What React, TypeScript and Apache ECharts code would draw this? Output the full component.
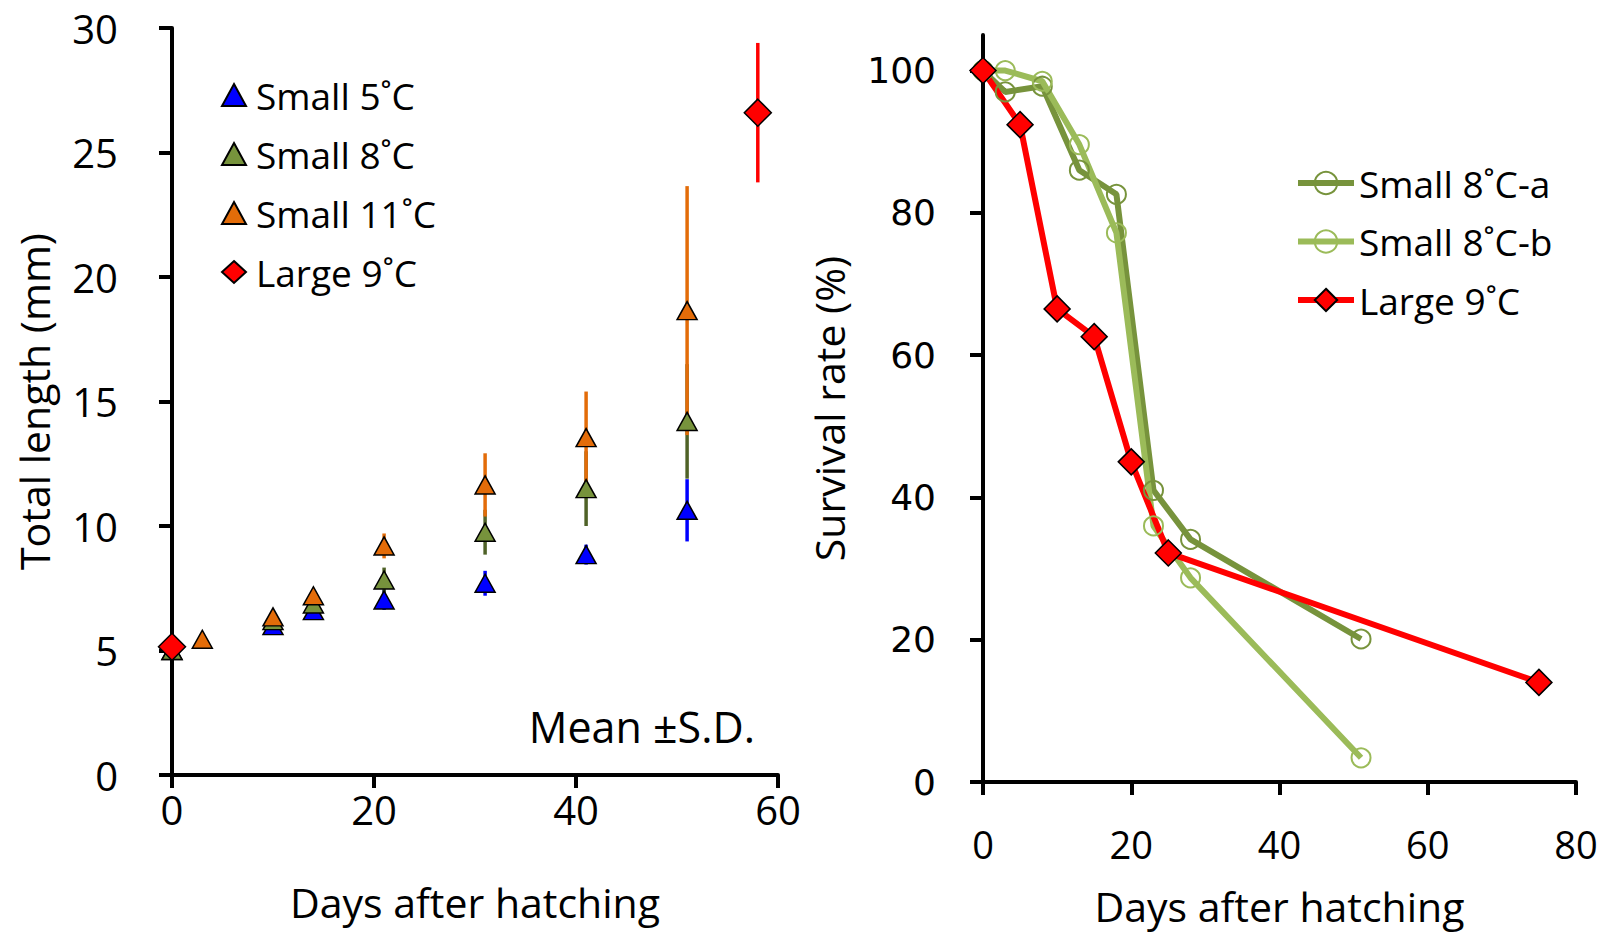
import React, { useEffect, useRef } from 'react';
import * as echarts from 'echarts';

// ---------- Left panel: growth (mean ± S.D.) ----------
const daysSmall5 = [0, 10, 14, 21, 31, 41, 51];
const meanSmall5 = [5.0, 6.0, 6.6, 7.03, 7.7, 8.85, 10.63];
const sdSmall5 = [0.1, 0.15, 0.15, 0.4, 0.5, 0.4, 1.25];

const daysSmall8 = [0, 10, 14, 21, 31, 41, 51];
const meanSmall8 = [5.0, 6.2, 6.87, 7.83, 9.75, 11.5, 14.2];
const sdSmall8 = [0.1, 0.15, 0.2, 0.5, 0.9, 1.5, 2.3];

const daysSmall11 = [3, 10, 14, 21, 31, 41, 51];
const meanSmall11 = [5.45, 6.35, 7.2, 9.2, 11.65, 13.55, 18.65];
const sdSmall11 = [0.15, 0.2, 0.25, 0.5, 1.27, 1.85, 5.0];

const daysLarge = [0, 58];
const meanLarge = [5.15, 26.6];
const sdLarge = [0.1, 2.8];

const growthNames = ['Small 5˚C', 'Small 8˚C', 'Small 11˚C', 'Large 9˚C'];

// ---------- Right panel: survival ----------
const survDaysA = [0, 3, 8, 13, 18, 23, 28, 51];
const survA = [100, 97, 97.8, 86, 82.6, 41, 34.1, 20.1];
const survDaysB = [0, 3, 8, 13, 18, 23, 28, 51];
const survB = [100, 100, 98.5, 89.6, 77.2, 36, 28.7, 3.4];
const survDaysL = [0, 5, 10, 15, 20, 25, 75];
const survL = [100, 92.4, 66.5, 62.6, 45, 32.2, 14];
const survNames = ['Small 8˚C-a', 'Small 8˚C-b', 'Large 9˚C'];
const survYTicks = [0, 20, 40, 60, 80, 100];

const FONT = "'Open Sans', sans-serif";
const FONT_V = "'DejaVu Sans', sans-serif";

const C_BLUE = '#0000FF';
const C_OLIVE = '#77933C';
const C_OLIVE_DARK = '#4F6228';
const C_ORANGE = '#E36C09';
const C_RED = '#FF0000';
const C_LIGHT = '#9BBB59';

const RIGHT_X0 = 760; // left edge of the right chart's container

const zip3 = (d: number[], m: number[], s: number[]) => d.map((x, i) => [x, m[i], s[i]]);
const zip2 = (d: number[], v: number[]) => d.map((x, i) => [x, v[i]]);

const errSeries = (name: string, data: number[][], color: string) => ({
  type: 'custom',
  name,
  data,
  z: 2,
  encode: { x: 0, y: 1 },
  renderItem: (params: any, api: any) => {
    const x = api.value(0);
    const m = api.value(1);
    const s = api.value(2);
    const top = api.coord([x, m + s]);
    const bot = api.coord([x, m - s]);
    return {
      type: 'line',
      shape: { x1: top[0], y1: top[1], x2: bot[0], y2: bot[1] },
      style: { stroke: color, lineWidth: 3.5 },
    };
  },
});

const scatterSeries = (name: string, data: number[][], color: string, symbol: string, size: number[]) => ({
  type: 'scatter',
  name,
  data: data.map((p) => [p[0], p[1]]),
  symbol,
  symbolSize: size,
  z: 3,
  itemStyle: { color, opacity: 1, borderColor: '#000', borderWidth: 1.5 },
});

const axisCommon = {
  type: 'value',
  nameLocation: 'middle',
  splitLine: { show: false },
  axisLine: { show: true, lineStyle: { color: '#000', width: 4 } },
  axisTick: { show: true, inside: false, length: 13, lineStyle: { color: '#000', width: 4 } },
};

const leftOption: any = {
  animation: false,
  grid: { left: 172, top: 28, right: 27, bottom: 159, containLabel: false, outerBoundsMode: 'none' },
  xAxis: {
    ...axisCommon,
    min: 0,
    max: 60,
    interval: 20,
    name: 'Days after hatching',
    nameGap: 106,
    nameTextStyle: { fontSize: 41, fontFamily: FONT, color: '#000' },
    axisLabel: { margin: 14, fontSize: 40, fontFamily: FONT, color: '#000' },
  },
  yAxis: {
    ...axisCommon,
    min: 0,
    max: 30,
    interval: 5,
    name: 'Total length (mm)',
    nameGap: 118,
    nameTextStyle: { fontSize: 41, fontFamily: FONT, color: '#000' },
    axisLabel: { margin: 54, fontSize: 40, fontFamily: FONT, color: '#000' },
  },
  legend: {
    orient: 'vertical',
    left: 216,
    top: 70,
    itemWidth: 24,
    itemHeight: 22,
    itemGap: 19,
    selectedMode: false,
    data: growthNames,
    textStyle: { fontSize: 37, fontFamily: FONT, color: '#000', lineHeight: 40, padding: [0, 0, 0, 5] },
  },
  graphic: [
    {
      type: 'text',
      x: 755,
      y: 726,
      style: {
        text: 'Mean ±S.D.',
        fill: '#000',
        fontSize: 43,
        fontFamily: FONT,
        align: 'right',
        verticalAlign: 'middle',
      },
    },
  ],
  series: [
    errSeries('sd5', zip3(daysSmall5, meanSmall5, sdSmall5), C_BLUE),
    errSeries('sd8', zip3(daysSmall8, meanSmall8, sdSmall8), C_OLIVE_DARK),
    errSeries('sd11', zip3(daysSmall11, meanSmall11, sdSmall11), C_ORANGE),
    errSeries('sdL', zip3(daysLarge, meanLarge, sdLarge), C_RED),
    scatterSeries(growthNames[0], zip2(daysSmall5, meanSmall5), C_BLUE, 'triangle', [20, 18]),
    scatterSeries(growthNames[1], zip2(daysSmall8, meanSmall8), C_OLIVE, 'triangle', [20, 18]),
    scatterSeries(growthNames[2], zip2(daysSmall11, meanSmall11), C_ORANGE, 'triangle', [20, 18]),
    scatterSeries(growthNames[3], zip2(daysLarge, meanLarge), C_RED, 'diamond', [27, 27]),
  ],
};

const lineSeries = (name: string, data: number[][], color: string, symbol: string, size: number, hollow: boolean) => ({
  type: 'line',
  name,
  data,
  symbol,
  symbolSize: size,
  showAllSymbol: true,
  lineStyle: { color, width: 6 },
  itemStyle: hollow
    ? { color: 'transparent', borderColor: color, borderWidth: 2 }
    : { color, borderColor: '#000', borderWidth: 1.5 },
  z: 3,
});

const rightOption: any = {
  animation: false,
  grid: { left: 983 - RIGHT_X0, top: 35, right: 34, bottom: 152, containLabel: false, outerBoundsMode: 'none' },
  xAxis: {
    ...axisCommon,
    min: 0,
    max: 80,
    interval: 20,
    name: 'Days after hatching',
    nameGap: 103,
    nameTextStyle: { fontSize: 41, fontFamily: FONT, color: '#000' },
    axisLabel: { margin: 43, fontSize: 38, fontFamily: FONT, color: '#000' },
  },
  yAxis: {
    ...axisCommon,
    min: 0,
    max: 105,
    name: 'Survival rate (%)',
    nameGap: 134,
    nameTextStyle: { fontSize: 41, fontFamily: FONT, color: '#000' },
    axisTick: { show: true, inside: false, length: 13, customValues: survYTicks, lineStyle: { color: '#000', width: 4 } },
    axisLabel: { margin: 47, fontSize: 36, fontFamily: FONT_V, color: '#000', customValues: survYTicks },
  },
  legend: {
    orient: 'vertical',
    left: 1290 - RIGHT_X0,
    top: 158,
    itemWidth: 56,
    itemHeight: 28,
    itemGap: 18.5,
    selectedMode: false,
    data: survNames,
    lineStyle: { width: 6 },
    textStyle: { fontSize: 37, fontFamily: FONT, color: '#000', lineHeight: 40 },
  },
  series: [
    lineSeries(survNames[0], zip2(survDaysA, survA), C_OLIVE, 'circle', 19, true),
    lineSeries(survNames[1], zip2(survDaysB, survB), C_LIGHT, 'circle', 19, true),
    lineSeries(survNames[2], zip2(survDaysL, survL), C_RED, 'diamond', 26, false),
  ],
};

export default function App() {
  const leftRef = useRef<HTMLDivElement>(null);
  const rightRef = useRef<HTMLDivElement>(null);
  useEffect(() => {
    const c1 = echarts.init(leftRef.current!, undefined, { renderer: 'svg' });
    const c2 = echarts.init(rightRef.current!, undefined, { renderer: 'svg' });
    c1.setOption(leftOption);
    c2.setOption(rightOption);
    return () => {
      c1.dispose();
      c2.dispose();
    };
  }, []);
  return (
    <div style={{ position: 'absolute', left: 0, top: 0, width: 1610, height: 934, background: '#fff' }}>
      <div ref={leftRef} style={{ position: 'absolute', left: 0, top: 0, width: 805, height: 934 }} />
      <div
        ref={rightRef}
        style={{ position: 'absolute', left: RIGHT_X0, top: 0, width: 1610 - RIGHT_X0, height: 934 }}
      />
    </div>
  );
}
